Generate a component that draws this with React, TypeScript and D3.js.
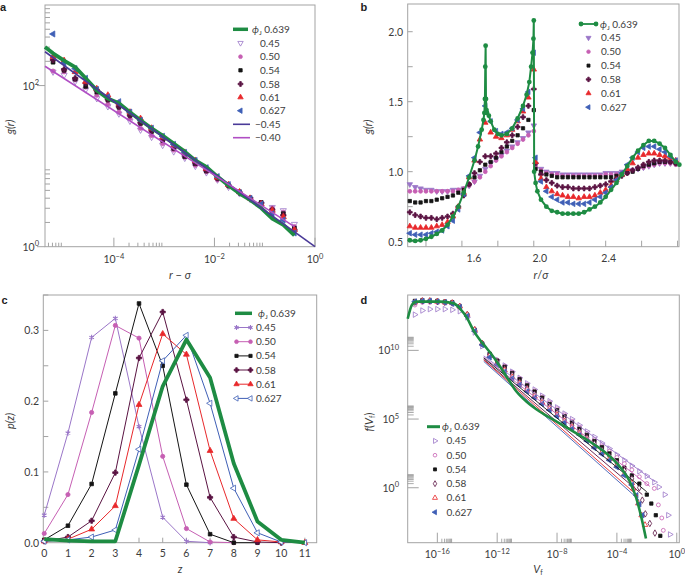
import React from 'react';
import * as d3 from 'd3';

const W = 685, H = 579;
const FONT = "Lato, 'Open Sans', sans-serif";
const TXT = '#3c3c3c';
const FRAME = '#a3a3a3';

const COL: Record<string, string> = {
  g639: '#1e8c43', p45: '#9a76c8', p50: '#c65fb3', p54: '#141414',
  p58: '#5a1342', p61: '#e8282b', p627: '#3f5fb6', fit45: '#4a3a98', fit40: '#b04ec4',
};

// ---------------- Panel a : g(r) vs r - sigma (log10 values)
const aLogX = [-5.21, -4.99, -4.77, -4.56, -4.34, -4.12, -3.90, -3.68, -3.47, -3.25, -3.03, -2.81, -2.59, -2.38, -2.16, -1.94, -1.72, -1.50, -1.29, -1.07, -0.85, -0.63, -0.41];
const aGreenLogX = [-5.37, ...aLogX];
const aGreen = [2.48, 2.40, 2.31, 2.23, 2.09, 1.94, 1.84, 1.78, 1.67, 1.57, 1.47, 1.38, 1.28, 1.18, 1.07, 0.99, 0.87, 0.76, 0.66, 0.58, 0.48, 0.35, 0.27, 0.14];
const a045 = [2.17, 2.13, 2.05, 1.95, 1.84, 1.74, 1.65, 1.56, 1.45, 1.36, 1.26, 1.18, 1.10, 1.00, 0.92, 0.83, 0.74, 0.66, 0.59, 0.53, 0.49, 0.45, 0.28];
const a050 = [2.18, 2.17, 2.07, 1.98, 1.88, 1.77, 1.67, 1.59, 1.47, 1.38, 1.28, 1.20, 1.11, 1.01, 0.93, 0.83, 0.76, 0.67, 0.59, 0.54, 0.48, 0.43, 0.25];
const a054 = [2.29, 2.19, 2.08, 1.99, 1.92, 1.82, 1.73, 1.63, 1.53, 1.43, 1.32, 1.22, 1.12, 1.03, 0.94, 0.85, 0.76, 0.68, 0.60, 0.55, 0.45, 0.41, 0.23];
const a058 = [2.32, 2.20, 2.09, 2.03, 1.94, 1.83, 1.74, 1.63, 1.54, 1.44, 1.33, 1.23, 1.14, 1.04, 0.95, 0.85, 0.76, 0.67, 0.60, 0.54, 0.46, 0.39, 0.21];
const a061 = [2.36, 2.31, 2.17, 2.05, 1.96, 1.88, 1.78, 1.67, 1.59, 1.47, 1.36, 1.26, 1.17, 1.07, 0.97, 0.86, 0.77, 0.68, 0.60, 0.53, 0.45, 0.37, 0.21];
const a0627 = [2.64, 2.28, 2.21, 2.09, 1.95, 1.86, 1.80, 1.67, 1.57, 1.47, 1.37, 1.27, 1.17, 1.07, 0.98, 0.87, 0.77, 0.67, 0.60, 0.53, 0.41, 0.33, 0.17];
const aFit045 = [[-5.37, 2.42], [0, 0]];
const aFit040 = [[-5.37, 2.24], [-0.41, 0.25]];

// ---------------- Panel b : g(r) vs r/sigma
const bRL = [1.31, 1.34, 1.37, 1.40, 1.43, 1.46, 1.49, 1.52, 1.55, 1.58, 1.61, 1.64, 1.67, 1.70, 1.73, 1.76, 1.79, 1.82, 1.85, 1.88, 1.91, 1.94, 1.97, 2.00];
const bRR = [2.01, 2.04, 2.07, 2.10, 2.13, 2.16, 2.19, 2.22, 2.25, 2.28, 2.31, 2.34, 2.37, 2.40, 2.43, 2.46, 2.49, 2.52, 2.55, 2.58, 2.61, 2.64, 2.67, 2.70, 2.73, 2.76, 2.79];
const b045 = [0.91, 0.89, 0.88, 0.87, 0.87, 0.86, 0.86, 0.86, 0.87, 0.87, 0.88, 0.90, 0.93, 0.97, 1.02, 1.06, 1.09, 1.12, 1.15, 1.18, 1.21, 1.24, 1.28, 1.33,
  1.05, 1.02, 1.00, 0.99, 0.99, 0.98, 0.98, 0.98, 0.98, 0.98, 0.98, 0.98, 0.98, 0.99, 0.99, 0.99, 1.00, 1.00, 1.01, 1.02, 1.03, 1.04, 1.05, 1.06, 1.06, 1.06, 1.06];
const b050 = [0.86, 0.86, 0.86, 0.86, 0.86, 0.86, 0.86, 0.86, 0.86, 0.87, 0.88, 0.90, 0.93, 0.96, 1.00, 1.04, 1.08, 1.11, 1.14, 1.17, 1.20, 1.23, 1.26, 1.29,
  1.04, 1.01, 0.99, 0.98, 0.98, 0.97, 0.97, 0.97, 0.97, 0.97, 0.97, 0.97, 0.97, 0.98, 0.98, 0.98, 0.99, 1.00, 1.01, 1.02, 1.03, 1.04, 1.05, 1.06, 1.06, 1.06, 1.05];
const b054 = [0.79, 0.78, 0.78, 0.79, 0.79, 0.80, 0.81, 0.82, 0.83, 0.85, 0.87, 0.91, 0.96, 1.01, 1.05, 1.07, 1.10, 1.14, 1.18, 1.22, 1.26, 1.31, 1.37, 1.44,
  1.02, 1.00, 0.98, 0.97, 0.96, 0.96, 0.96, 0.96, 0.96, 0.96, 0.96, 0.96, 0.96, 0.96, 0.96, 0.97, 0.98, 0.99, 1.00, 1.02, 1.04, 1.05, 1.06, 1.07, 1.07, 1.07, 1.06];
const b058 = [0.71, 0.69, 0.68, 0.67, 0.67, 0.66, 0.67, 0.68, 0.70, 0.75, 0.83, 0.91, 0.99, 1.07, 1.11, 1.11, 1.13, 1.17, 1.21, 1.26, 1.32, 1.39, 1.47, 1.59,
  1.06, 0.98, 0.94, 0.92, 0.90, 0.89, 0.89, 0.88, 0.88, 0.88, 0.88, 0.89, 0.90, 0.91, 0.93, 0.95, 0.97, 0.99, 1.01, 1.03, 1.05, 1.07, 1.08, 1.08, 1.08, 1.07, 1.06];
const b061 = [0.61, 0.60, 0.60, 0.60, 0.60, 0.61, 0.62, 0.64, 0.68, 0.75, 0.85, 0.96, 1.08, 1.23, 1.35, 1.28, 1.25, 1.24, 1.26, 1.30, 1.36, 1.43, 1.53, 1.73,
  1.07, 0.95, 0.89, 0.86, 0.84, 0.83, 0.82, 0.82, 0.81, 0.82, 0.82, 0.83, 0.85, 0.87, 0.90, 0.94, 0.98, 1.02, 1.06, 1.10, 1.12, 1.13, 1.13, 1.12, 1.11, 1.10, 1.08];
const b0627 = [0.56, 0.55, 0.55, 0.55, 0.56, 0.57, 0.58, 0.61, 0.65, 0.73, 0.84, 0.97, 1.10, 1.28, 1.47, 1.36, 1.29, 1.27, 1.28, 1.31, 1.37, 1.45, 1.57, 1.85,
  1.10, 0.93, 0.86, 0.82, 0.80, 0.78, 0.78, 0.77, 0.77, 0.77, 0.78, 0.80, 0.82, 0.85, 0.89, 0.94, 0.99, 1.05, 1.10, 1.14, 1.17, 1.18, 1.18, 1.16, 1.14, 1.11, 1.08];
const bGreenR = [1.31, 1.34, 1.37, 1.40, 1.43, 1.46, 1.49, 1.52, 1.55, 1.58, 1.61, 1.64, 1.67, 1.69, 1.71, 1.72, 1.725, 1.728, 1.730, 1.732, 1.734, 1.737, 1.74, 1.75, 1.76, 1.78, 1.80, 1.82, 1.85, 1.88, 1.91, 1.94, 1.96, 1.975, 1.985, 1.993, 1.998, 2.000,
  2.002, 2.01, 2.02, 2.04, 2.07, 2.10, 2.13, 2.16, 2.19, 2.22, 2.25, 2.28, 2.31, 2.34, 2.37, 2.40, 2.43, 2.46, 2.49, 2.52, 2.55, 2.58, 2.61, 2.64, 2.67, 2.70, 2.73, 2.76, 2.79, 2.81];
const bGreen = [0.51, 0.505, 0.51, 0.52, 0.535, 0.555, 0.58, 0.62, 0.68, 0.75, 0.85, 0.96, 1.08, 1.18, 1.30, 1.37, 1.42, 1.52, 1.75, 1.90, 1.52, 1.44, 1.42, 1.40, 1.36, 1.30, 1.27, 1.26, 1.27, 1.31, 1.38, 1.47, 1.55, 1.64, 1.75, 1.85, 1.95, 2.08,
  1.00, 0.92, 0.86, 0.80, 0.75, 0.72, 0.71, 0.70, 0.70, 0.70, 0.70, 0.71, 0.73, 0.75, 0.78, 0.82, 0.87, 0.92, 0.98, 1.04, 1.10, 1.15, 1.19, 1.22, 1.22, 1.20, 1.17, 1.12, 1.07, 1.05];
const bTickLabels = [1.6, 2.0, 2.4];
const bTickLabelShift = [12, 6, 3];

// ---------------- Panel c : p(z)
const cZ = [0, 1, 2, 3, 4, 5, 6, 7, 8, 9, 10, 11];
const c045 = [0.039, 0.155, 0.290, 0.317, 0.164, 0.036, 0.002, 0.0];
const c050 = [0.013, 0.068, 0.184, 0.307, 0.289, 0.122, 0.020, 0.001, 0.0];
const c054 = [0.004, 0.024, 0.083, 0.211, 0.338, 0.250, 0.082, 0.012, 0.0, 0.0];
const c058 = [0.002, 0.008, 0.031, 0.099, 0.261, 0.326, 0.202, 0.064, 0.008, 0.001, 0.0];
const c061 = [0.002, 0.005, 0.019, 0.052, 0.195, 0.295, 0.266, 0.130, 0.034, 0.004, 0.001, 0.0];
const c0627 = [0.002, 0.004, 0.008, 0.018, 0.132, 0.257, 0.293, 0.197, 0.077, 0.014, 0.001, 0.0];
const cGreen = [0.005, 0.003, 0.002, 0.002, 0.110, 0.221, 0.287, 0.233, 0.112, 0.030, 0.004, 0.0];

// ---------------- Panel d : f(V_f)  (log10 V_f, log10 f)
const dLogX = [-17.5, -17, -16.5, -16, -15.5, -15, -14.5, -14, -13.5, -13, -12.5, -12, -11.5, -11, -10.5, -10, -9.5, -9, -8.5, -8, -7.5, -7, -6.5, -6, -5.5, -5, -4.5, -4, -3.5, -3, -2.5];
const d045 = [12.6, 12.9, 13.0, 13.0, 13.0, 12.95, 12.85, 12.4, 11.3, 10.3, 9.7, 9.3, 8.9, 8.45, 8.0, 7.6, 7.15, 6.7, 6.3, 5.85, 5.4, 5.0, 4.55, 4.1, 3.7, 3.25, 2.85, 2.4, 2.0, 1.6, 1.2];
const d045Tail = [[-2.0, 0.85], [-1.5, 0.4], [-1.2, 0.05], [-0.8, -0.5], [-0.57, -2.0], [-0.45, -3.4]];
const d050 = [13.3, 13.5, 13.5, 13.5, 13.45, 13.4, 13.1, 12.5, 11.4, 10.4, 9.75, 9.3, 8.85, 8.4, 7.95, 7.5, 7.05, 6.6, 6.2, 5.75, 5.3, 4.85, 4.4, 3.95, 3.5, 3.05, 2.65, 2.2, 1.75, 1.3, 0.8];
const d050Tail = [[-2.0, 0.3], [-1.5, -0.05], [-1.23, -1.25], [-1.0, -2.2], [-0.9, -3.1]];
const d054 = [13.6, 13.65, 13.6, 13.6, 13.55, 13.5, 13.2, 12.6, 11.5, 10.5, 9.75, 9.25, 8.8, 8.35, 7.9, 7.45, 7.0, 6.55, 6.1, 5.65, 5.2, 4.75, 4.3, 3.85, 3.4, 2.95, 2.5, 2.0, 1.45, 0.9, 0.3];
const d054Tail = [[-2.0, -0.5], [-1.7, -1.15], [-1.4, -2.0], [-1.1, -3.5]];
const d058 = [13.5, 13.6, 13.6, 13.55, 13.5, 13.45, 13.2, 12.6, 11.5, 10.5, 9.7, 9.15, 8.65, 8.2, 7.7, 7.25, 6.8, 6.35, 5.9, 5.45, 5.0, 4.55, 4.1, 3.65, 3.2, 2.75, 2.3, 1.8, 1.25, 0.65, 0.0];
const d058Tail = [[-2.3, -0.9], [-2.1, -1.9], [-1.8, -2.6], [-1.46, -3.3]];
const d061 = [13.5, 13.6, 13.6, 13.55, 13.5, 13.45, 13.2, 12.6, 11.5, 10.5, 9.6, 9.05, 8.55, 8.05, 7.6, 7.15, 6.65, 6.2, 5.75, 5.3, 4.85, 4.4, 3.95, 3.5, 3.0, 2.55, 2.1, 1.6, 1.0, 0.35];
const d061Tail = [[-2.9, -0.05], [-2.57, -1.14], [-2.35, -2.0], [-2.12, -2.7]];
const d0627 = [13.55, 13.6, 13.6, 13.55, 13.5, 13.4, 13.15, 12.5, 11.4, 10.4, 9.5, 8.95, 8.45, 7.95, 7.5, 7.0, 6.55, 6.1, 5.65, 5.2, 4.75, 4.3, 3.85, 3.4, 2.9, 2.45, 2.0, 1.5, 0.9, 0.2];
const d0627Tail = [[-2.7, -0.55], [-2.5, -1.2], [-2.3, -2.0]];
// thin power-law guide lines drawn through the middle of each data set: [log x, log f] end points
const d045Fit = [[-12.9, 9.6], [-1.46, 0.44]];
const d050Fit = [[-12.9, 9.5], [-1.8, 0.1]];
const d054Fit = [[-12.9, 9.45], [-2.0, -0.3]];
const d058Fit = [[-12.9, 9.35], [-2.3, -0.5]];
const d061Fit = [[-12.9, 9.3], [-2.6, -0.6]];
const d0627Fit = [[-12.9, 9.2], [-2.5, -0.9]];
const dGreen = [[-17.98, 12.3], [-17.7, 13.3], [-17.4, 13.55], [-16.7, 13.55], [-15.8, 13.55], [-14.9, 13.42], [-14.5, 13.06], [-14.0, 12.33], [-13.6, 11.48], [-13.15, 10.75], [-12.7, 10.15], [-12.26, 9.54], [-11.8, 8.81], [-11.37, 8.08], [-10.7, 6.99], [-10.03, 6.26], [-9.14, 5.53], [-8.0, 4.8], [-6.9, 4.08], [-5.8, 3.35], [-4.7, 2.5], [-3.8, 1.53], [-3.13, 0.44], [-2.7, -0.78], [-2.35, -2.23], [-2.06, -3.69]];

const LABELS = ['0.45', '0.50', '0.54', '0.58', '0.61', '0.627'];

// ---------------- helpers
type Shape = 'triDown' | 'triUp' | 'triLeft' | 'triRight' | 'circle' | 'square' | 'cross' | 'diamond' | 'asterisk';
function Marker({ shape, x, y, size = 16, color, filled = true, sw = 0.8 }:
  { shape: Shape; x: number; y: number; size?: number; color: string; filled?: boolean; sw?: number }) {
  let t: any = d3.symbolCircle; let rot = 0;
  switch (shape) {
    case 'triDown': t = d3.symbolTriangle; rot = 180; break;
    case 'triUp': t = d3.symbolTriangle; break;
    case 'triLeft': t = d3.symbolTriangle; rot = -90; break;
    case 'triRight': t = d3.symbolTriangle; rot = 90; break;
    case 'square': t = d3.symbolSquare; break;
    case 'cross': t = d3.symbolCross; break;
    case 'diamond': t = d3.symbolDiamond; break;
    case 'asterisk': t = d3.symbolAsterisk; break;
  }
  const d = d3.symbol().type(t).size(size)() as string;
  const isStroke = shape === 'asterisk';
  return <path d={d} transform={`translate(${x},${y}) rotate(${rot})`}
    fill={isStroke ? 'none' : filled ? color : '#fff'} stroke={color} strokeWidth={isStroke ? 1.1 : sw} />;
}

const supTxt = (e: number) => (e < 0 ? '\u2212' + Math.abs(e) : String(e));
function Pow({ x, y, e, anchor = 'middle' }: { x: number; y: number; e: number; anchor?: string }) {
  return <text x={x} y={y} textAnchor={anchor as any} fontSize={10.5} fill={TXT}>10<tspan dy={-4.5} fontSize={7.5}>{supTxt(e)}</tspan></text>;
}

function Frame({ x0, x1, y0, y1 }: { x0: number; x1: number; y0: number; y1: number }) {
  return <rect x={x0} y={y0} width={x1 - x0} height={y1 - y0} fill="none" stroke={FRAME} strokeWidth={1} />;
}

function PanelLetter({ x, y, t }: { x: number; y: number; t: string }) {
  return <text x={x} y={y} fontSize={11} fontWeight="bold" fontFamily="'Liberation Sans', Arial, sans-serif" fill="#222">{t}</text>;
}

function PhiLabel({ x, y }: { x: number; y: number }) {
  return <text x={x} y={y} fontSize={10} fill={TXT}><tspan fontStyle="italic">ϕ</tspan><tspan fontSize={6.5} dy={2}>J</tspan><tspan dy={-2}> 0.639</tspan></text>;
}

// ---------------- Panel A
function PanelA() {
  const X0 = 45, X1 = 315, Y0 = 5, Y1 = 246.7;
  const x = d3.scaleLog().domain([Math.pow(10, -5.37), 1]).range([X0, X1]);
  const y = d3.scaleLog().domain([1, 1000]).range([Y1, Y0]);
  const px = (l: number) => x(Math.pow(10, l));
  const py = (l: number) => y(Math.pow(10, l));
  const line = d3.line<number[]>().x(d => px(d[0])).y(d => py(d[1]));
  const series = [
    { v: a045, c: COL.p45, s: 'triDown' as Shape, f: false, z: 16 },
    { v: a050, c: COL.p50, s: 'circle' as Shape, f: true, z: 14 },
    { v: a054, c: COL.p54, s: 'square' as Shape, f: true, z: 14 },
    { v: a058, c: COL.p58, s: 'cross' as Shape, f: true, z: 16 },
    { v: a061, c: COL.p61, s: 'triUp' as Shape, f: true, z: 16 },
    { v: a0627, c: COL.p627, s: 'triLeft' as Shape, f: true, z: 16 },
  ];
  const minorX: number[] = [];
  [-6, -4, -2].forEach(d => { for (let k = 2; k <= 9; k++) { const v = k * Math.pow(10, d); if (v > x.domain()[0]) minorX.push(v); } });
  const minorY: number[] = [];
  [0, 2].forEach(d => { for (let k = 2; k <= 9; k++) minorY.push(k * Math.pow(10, d)); });
  const legY = [29.3, 43, 56.7, 70.3, 84, 97.3, 110.7, 124.3, 137.7];
  return (
    <g>
      <PanelLetter x={0} y={11} t="a" />
      <Frame x0={X0} x1={X1} y0={Y0} y1={Y1} />
      {minorX.map((v, i) => <line key={'mx' + i} x1={x(v)} x2={x(v)} y1={Y1} y2={Y1 - 4} stroke={FRAME} />)}
      {[1e-4, 1e-2, 1].map((v, i) => <line key={'Mx' + i} x1={x(v)} x2={x(v)} y1={Y1} y2={Y1 - 9} stroke={FRAME} />)}
      {[-4, -2, 0].map(e => <Pow key={'lx' + e} x={x(Math.pow(10, e))} y={263} e={e} />)}
      {minorY.map((v, i) => <line key={'my' + i} x1={X0} x2={X0 + 5} y1={y(v)} y2={y(v)} stroke={FRAME} />)}
      {[1, 100].map((v, i) => <line key={'My' + i} x1={X0 - 8} x2={X0} y1={y(v)} y2={y(v)} stroke={FRAME} />)}
      {[0, 2].map(e => <Pow key={'ly' + e} x={39} y={y(Math.pow(10, e)) + 4} e={e} anchor="end" />)}
      <text transform={`translate(14,127) rotate(-90)`} textAnchor="middle" fontSize={11} fontStyle="italic" fill={TXT}>g(r)</text>
      <text x={180} y={279} textAnchor="middle" fontSize={11} fill={TXT}><tspan fontStyle="italic">r</tspan> − <tspan fontStyle="italic">σ</tspan></text>
      {series.map((s, si) => s.v.map((v, i) => <Marker key={si + '-' + i} shape={s.s} x={px(aLogX[i])} y={py(v)} color={s.c} filled={s.f} size={s.z} />))}
      <path d={line(aGreenLogX.map((l, i) => [l, aGreen[i]])) as string} fill="none" stroke={COL.g639} strokeWidth={3.8} strokeLinejoin="round" />
      <path d={line(aFit045) as string} fill="none" stroke={COL.fit45} strokeWidth={1.6} />
      <path d={line(aFit040) as string} fill="none" stroke={COL.fit40} strokeWidth={1.6} />
      {/* legend */}
      <line x1={233} x2={248} y1={legY[0]} y2={legY[0]} stroke={COL.g639} strokeWidth={3.5} />
      <PhiLabel x={252} y={legY[0] + 3.5} />
      {series.map((s, i) => (
        <g key={'lg' + i}>
          <Marker shape={s.s} x={240.5} y={legY[i + 1]} color={s.c} filled={s.f} size={s.z * 0.8} />
          <text x={260} y={legY[i + 1] + 3.5} fontSize={10} fill={TXT}>{LABELS[i]}</text>
        </g>
      ))}
      <line x1={233} x2={250} y1={legY[7]} y2={legY[7]} stroke={COL.fit45} strokeWidth={1.6} />
      <text x={255} y={legY[7] + 3.5} fontSize={10} fill={TXT}>−0.45</text>
      <line x1={233} x2={250} y1={legY[8]} y2={legY[8]} stroke={COL.fit40} strokeWidth={1.6} />
      <text x={255} y={legY[8] + 3.5} fontSize={10} fill={TXT}>−0.40</text>
    </g>
  );
}

// ---------------- Panel B
function PanelB() {
  const X0 = 407.7, X1 = 679, Y0 = 4, Y1 = 246.7;
  const x = d3.scaleLinear().domain([1.3, 2.808]).range([X0 + 0.3, X1]);
  const y = d3.scaleLinear().domain([0.464, 2.198]).range([Y1, Y0]);
  const rAll = [...bRL, ...bRR];
  const series = [
    { v: b045, c: COL.p45, s: 'triDown' as Shape, z: 13 },
    { v: b050, c: COL.p50, s: 'circle' as Shape, z: 12 },
    { v: b054, c: COL.p54, s: 'square' as Shape, z: 11 },
    { v: b058, c: COL.p58, s: 'cross' as Shape, z: 13 },
    { v: b061, c: COL.p61, s: 'triUp' as Shape, z: 13 },
    { v: b0627, c: COL.p627, s: 'triLeft' as Shape, z: 13 },
  ];
  const line = d3.line<number>().x((d, i) => x(bGreenR[i])).y(d => y(d));
  const legY = [24, 37.8, 51.7, 65.6, 79.4, 93.3, 107.2];
  return (
    <g>
      <PanelLetter x={360.5} y={11} t="b" />
      <Frame x0={X0} x1={X1} y0={Y0} y1={Y1} />
      {d3.range(1.4, 2.81, 0.2).map((v, i) => <line key={'tx' + i} x1={x(v)} x2={x(v)} y1={Y1} y2={Y1 - 6} stroke={FRAME} />)}
      {bTickLabels.map((v, i) => <text key={'lx' + v} x={x(v) + bTickLabelShift[i]} y={262} textAnchor="middle" fontSize={10.5} fill={TXT}>{v.toFixed(1)}</text>)}
      {d3.range(0.5, 2.01, 0.25).map((v, i) => <line key={'ty' + i} x1={X0} x2={X0 + 5} y1={y(v)} y2={y(v)} stroke={FRAME} />)}
      {[0.5, 1.0, 1.5, 2.0].map(v => <text key={'ly' + v} x={403} y={y(v) + 4} textAnchor="end" fontSize={10.5} fill={TXT}>{v.toFixed(1)}</text>)}
      <text transform={`translate(372,127) rotate(-90)`} textAnchor="middle" fontSize={11} fontStyle="italic" fill={TXT}>g(r)</text>
      <text x={541} y={279} textAnchor="middle" fontSize={11} fill={TXT}><tspan fontStyle="italic">r</tspan>/<tspan fontStyle="italic">σ</tspan></text>
      {series.map((s, si) => s.v.map((v, i) => <Marker key={si + '-' + i} shape={s.s} x={x(rAll[i])} y={y(v)} color={s.c} size={s.z} />))}
      <path d={line(bGreen) as string} fill="none" stroke={COL.g639} strokeWidth={2} />
      {bGreen.map((v, i) => <circle key={'g' + i} cx={x(bGreenR[i])} cy={y(v)} r={2.4} fill={COL.g639} />)}
      {/* legend */}
      <line x1={580} x2={597} y1={legY[0]} y2={legY[0]} stroke={COL.g639} strokeWidth={1.8} />
      <circle cx={581} cy={legY[0]} r={2.4} fill={COL.g639} />
      <circle cx={596} cy={legY[0]} r={2.4} fill={COL.g639} />
      <PhiLabel x={600} y={legY[0] + 3.5} />
      {series.map((s, i) => (
        <g key={'lg' + i}>
          <Marker shape={s.s} x={588.5} y={legY[i + 1]} color={s.c} size={s.z * 0.85} />
          <text x={601} y={legY[i + 1] + 3.5} fontSize={10} fill={TXT}>{LABELS[i]}</text>
        </g>
      ))}
    </g>
  );
}

// ---------------- Panel C
function PanelC() {
  const X0 = 43.3, X1 = 316.7, Y0 = 295, Y1 = 542.7;
  const x = d3.scaleLinear().domain([-0.04, 11.5]).range([X0, X1]);
  const y = d3.scaleLinear().domain([0, 0.35]).range([Y1, Y0]);
  const line = d3.line<number>().x((d, i) => x(cZ[i])).y(d => y(d));
  const series = [
    { v: c045, c: COL.p45, s: 'asterisk' as Shape, f: true, z: 20 },
    { v: c050, c: COL.p50, s: 'circle' as Shape, f: true, z: 14 },
    { v: c054, c: COL.p54, s: 'square' as Shape, f: true, z: 13 },
    { v: c058, c: COL.p58, s: 'cross' as Shape, f: true, z: 15 },
    { v: c061, c: COL.p61, s: 'triUp' as Shape, f: true, z: 15 },
    { v: c0627, c: COL.p627, s: 'triLeft' as Shape, f: false, z: 16 },
  ];
  const legY = [313.3, 327.5, 341.7, 355.9, 370, 384.2, 398.4];
  return (
    <g>
      <PanelLetter x={1.5} y={303.5} t="c" />
      <Frame x0={X0} x1={X1} y0={Y0} y1={Y1} />
      {cZ.map(v => <line key={'tx' + v} x1={x(v)} x2={x(v)} y1={Y1} y2={Y1 - 5} stroke={FRAME} />)}
      {cZ.map(v => <text key={'lx' + v} x={x(v)} y={557} textAnchor="middle" fontSize={10.5} fill={TXT}>{v}</text>)}
      {d3.range(0.05, 0.351, 0.05).map((v, i) => <line key={'ty' + i} x1={X0} x2={X0 + 5} y1={y(v)} y2={y(v)} stroke={FRAME} />)}
      {[0, 0.1, 0.2, 0.3].map(v => <text key={'ly' + v} x={39} y={y(v) + 4} textAnchor="end" fontSize={10.5} fill={TXT}>{v.toFixed(1)}</text>)}
      <text transform={`translate(14,421) rotate(-90)`} textAnchor="middle" fontSize={11} fontStyle="italic" fill={TXT}>p(z)</text>
      <text x={180} y={573} textAnchor="middle" fontSize={11} fontStyle="italic" fill={TXT}>z</text>
      {series.map((s, si) => (
        <g key={'s' + si}>
          <path d={line(s.v) as string} fill="none" stroke={s.c} strokeWidth={1} />
          {s.v.map((v, i) => <Marker key={i} shape={s.s} x={x(cZ[i])} y={y(v)} color={s.c} filled={s.f} size={s.z} />)}
        </g>
      ))}
      <path d={line(cGreen) as string} fill="none" stroke={COL.g639} strokeWidth={3.8} strokeLinejoin="round" />
      {/* legend */}
      <line x1={235} x2={252} y1={legY[0]} y2={legY[0]} stroke={COL.g639} strokeWidth={3.5} />
      <PhiLabel x={258} y={legY[0] + 3.5} />
      {series.map((s, i) => (
        <g key={'lg' + i}>
          <line x1={235} x2={252} y1={legY[i + 1]} y2={legY[i + 1]} stroke={s.c} strokeWidth={1} />
          <Marker shape={s.s} x={236.5} y={legY[i + 1]} color={s.c} filled={s.f} size={s.z * 0.8} />
          <Marker shape={s.s} x={250.5} y={legY[i + 1]} color={s.c} filled={s.f} size={s.z * 0.8} />
          <text x={256} y={legY[i + 1] + 3.5} fontSize={10} fill={TXT}>{LABELS[i]}</text>
        </g>
      ))}
    </g>
  );
}

// ---------------- Panel D
function PanelD() {
  const X0 = 407.7, X1 = 679.3, Y0 = 295, Y1 = 542.7;
  const x = d3.scaleLog().domain([Math.pow(10, -17.98), Math.pow(10, 0.17)]).range([X0, X1]);
  const y = d3.scaleLog().domain([Math.pow(10, -4), Math.pow(10, 14.03)]).range([Y1, Y0]);
  const px = (l: number) => x(Math.pow(10, l));
  const py = (l: number) => y(Math.pow(10, l));
  const line = d3.line<number[]>().x(d => px(d[0])).y(d => py(d[1])).curve(d3.curveMonotoneX);
  const series = [
    { v: d045, t: d045Tail, fit: d045Fit, c: COL.p45, s: 'triRight' as Shape, f: false, z: 13 },
    { v: d050, t: d050Tail, fit: d050Fit, c: COL.p50, s: 'circle' as Shape, f: false, z: 12 },
    { v: d054, t: d054Tail, fit: d054Fit, c: COL.p54, s: 'square' as Shape, f: true, z: 11 },
    { v: d058, t: d058Tail, fit: d058Fit, c: COL.p58, s: 'diamond' as Shape, f: false, z: 12 },
    { v: d061, t: d061Tail, fit: d061Fit, c: COL.p61, s: 'triUp' as Shape, f: false, z: 13 },
    { v: d0627, t: d0627Tail, fit: d0627Fit, c: COL.p627, s: 'triLeft' as Shape, f: true, z: 13 },
  ];
  const majX = [-16, -12, -8, -4, 0];
  const majY = [0, 5, 10];
  const minorX: number[] = []; majX.forEach(e => { for (let k = 2; k <= 9; k++) { const v = k * Math.pow(10, e); if (v < x.domain()[1]) minorX.push(v); } });
  const minorY: number[] = []; majY.forEach(e => { for (let k = 2; k <= 9; k++) minorY.push(k * Math.pow(10, e)); });
  const legY = [426.7, 440.9, 455.2, 469.4, 483.7, 497.9, 512.2];
  return (
    <g>
      <PanelLetter x={360.5} y={303.5} t="d" />
      <Frame x0={X0} x1={X1} y0={Y0} y1={Y1} />
      {minorX.map((v, i) => <line key={'mx' + i} x1={x(v)} x2={x(v)} y1={Y1} y2={Y1 - 4} stroke="#888" strokeWidth={0.7} />)}
      {majX.map(e => <line key={'Mx' + e} x1={px(e)} x2={px(e)} y1={Y1} y2={Y1 - 10} stroke={FRAME} />)}
      {majX.map(e => <Pow key={'lx' + e} x={px(e)} y={558} e={e} />)}
      {minorY.map((v, i) => <line key={'my' + i} x1={X0} x2={X0 + 6} y1={y(v)} y2={y(v)} stroke="#888" strokeWidth={0.7} />)}
      {majY.map(e => <line key={'My' + e} x1={X0} x2={X0 + 11} y1={py(e)} y2={py(e)} stroke={FRAME} />)}
      {majY.map(e => <Pow key={'ly' + e} x={399} y={py(e) + 4} e={e} anchor="end" />)}
      <text transform={`translate(373,422) rotate(-90)`} textAnchor="middle" fontSize={11} fill={TXT}><tspan fontStyle="italic">f</tspan>(<tspan fontStyle="italic">V</tspan><tspan fontSize={7} dy={2}>f</tspan><tspan dy={-2}>)</tspan></text>
      <text x={538} y={573} textAnchor="middle" fontSize={11} fill={TXT}><tspan fontStyle="italic">V</tspan><tspan fontSize={7} dy={2}>f</tspan></text>
      {series.map((s, si) => (
        <g key={'s' + si}>
          {s.v.map((v, i) => <Marker key={i} shape={s.s} x={px(dLogX[i])} y={py(v)} color={s.c} filled={s.f} size={s.z} />)}
          {s.t.map((p, i) => <Marker key={'t' + i} shape={s.s} x={px(p[0])} y={py(p[1])} color={s.c} filled={s.f} size={s.z} />)}
        </g>
      ))}
      {series.map((s, si) => <path key={'fit' + si} d={line(s.fit) as string} fill="none" stroke={s.c} strokeWidth={0.9} />)}
      <path d={line(dGreen) as string} fill="none" stroke={COL.g639} strokeWidth={2.6} />
      {/* legend */}
      <line x1={427} x2={440} y1={legY[0]} y2={legY[0]} stroke={COL.g639} strokeWidth={3} />
      <PhiLabel x={442} y={legY[0] + 3.5} />
      {series.map((s, i) => (
        <g key={'lg' + i}>
          <Marker shape={s.s} x={435} y={legY[i + 1]} color={s.c} filled={s.f} size={s.z * 0.85} />
          <text x={446.5} y={legY[i + 1] + 3.5} fontSize={10} fill={TXT}>{LABELS[i]}</text>
        </g>
      ))}
    </g>
  );
}

export default function App() {
  return (
    <svg width={W} height={H} viewBox={`0 0 ${W} ${H}`} style={{ position: 'absolute', left: 0, top: 0, background: '#fff' }} fontFamily={FONT}>
      <rect x={0} y={0} width={W} height={H} fill="#fff" />
      <PanelA />
      <PanelB />
      <PanelC />
      <PanelD />
    </svg>
  );
}
